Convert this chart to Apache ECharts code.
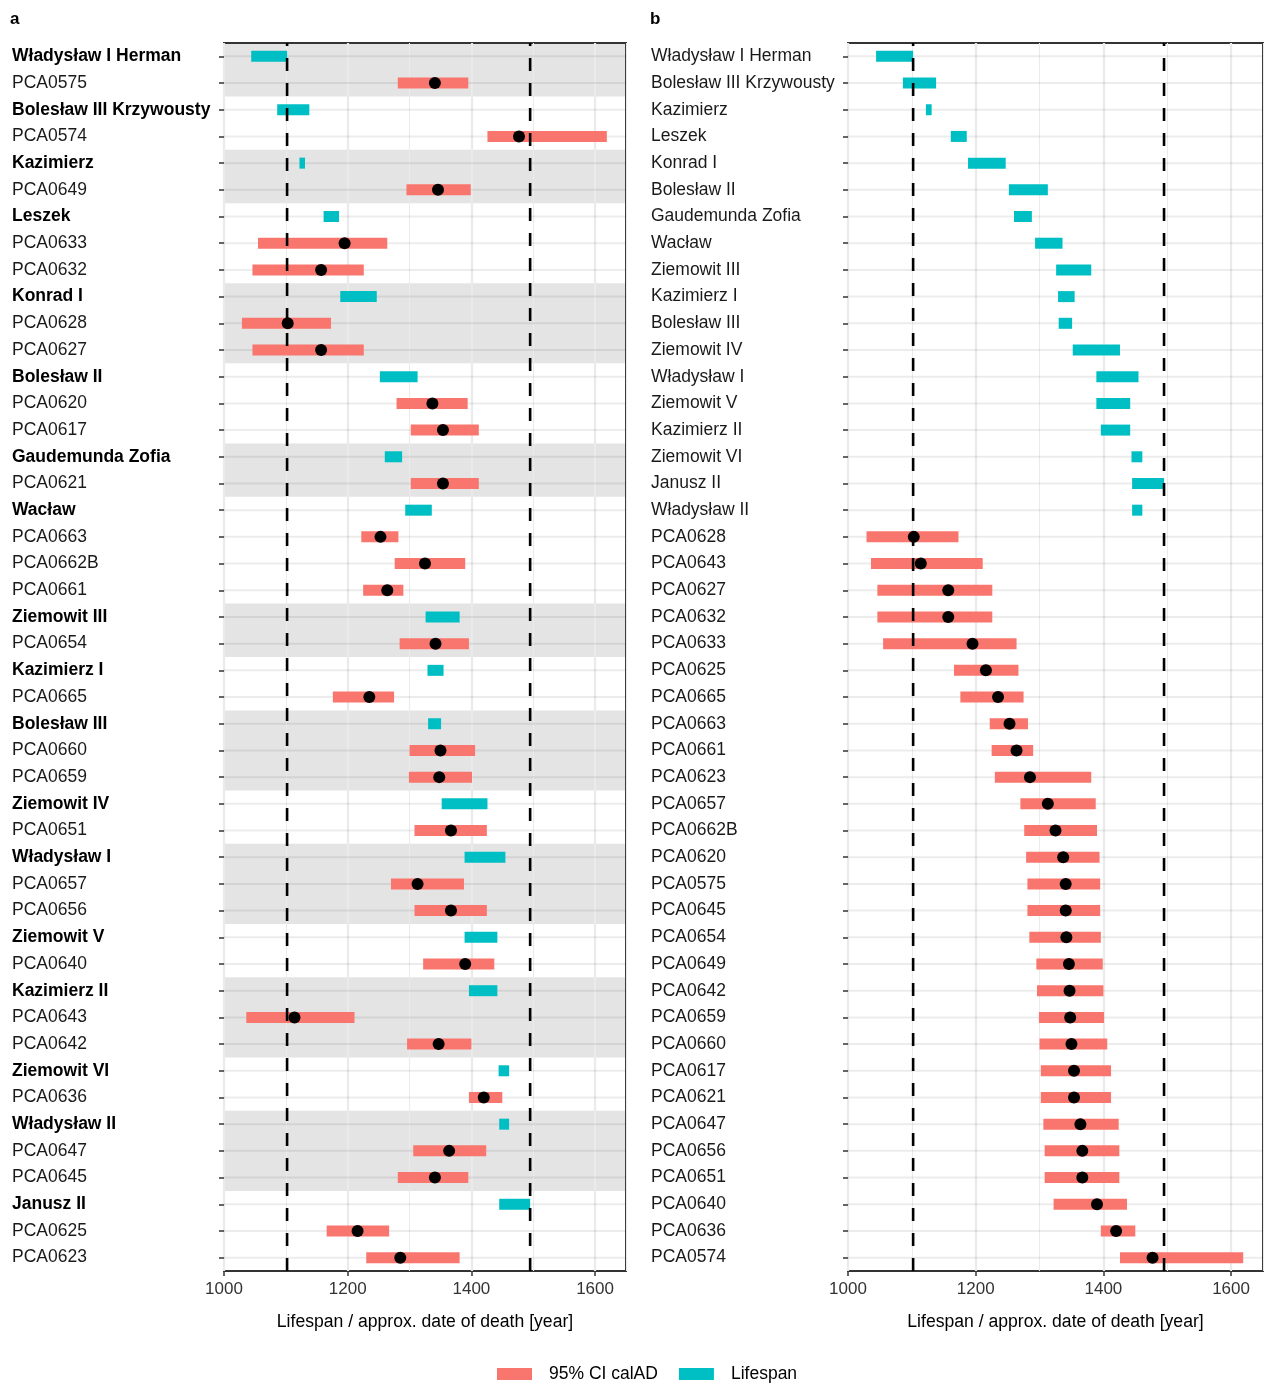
<!DOCTYPE html>
<html>
<head>
<meta charset="utf-8">
<title>Lifespan vs calAD</title>
<script src="https://cdn.jsdelivr.net/npm/echarts@6/dist/echarts.min.js"></script>
<style>
    html, body { margin: 0; padding: 0; background: #fff; }
    #chart { width: 1264px; height: 1383px; }
</style>
</head>
<body>
<div id="chart"></div>
<script>
// rulers (lifespan, years AD), panel b order
const rulers = ["Władysław I Herman", "Bolesław III Krzywousty", "Kazimierz", "Leszek", "Konrad I",
    "Bolesław II", "Gaudemunda Zofia", "Wacław", "Ziemowit III", "Kazimierz I", "Bolesław III",
    "Ziemowit IV", "Władysław I", "Ziemowit V", "Kazimierz II", "Ziemowit VI", "Janusz II", "Władysław II"]
const lifeStart = [1044, 1086, 1122, 1161, 1188, 1252, 1260, 1293, 1326, 1329, 1330, 1352, 1389, 1389, 1396, 1444, 1445, 1445]
const lifeEnd = [1102, 1138, 1131, 1186, 1247, 1313, 1288, 1336, 1381, 1355, 1351, 1426, 1455, 1442, 1442, 1461, 1495, 1461]

// samples, sorted by calAD (panel b order)
const samples = ["PCA0628", "PCA0643", "PCA0627", "PCA0632", "PCA0633", "PCA0625", "PCA0665", "PCA0663",
    "PCA0661", "PCA0623", "PCA0657", "PCA0662B", "PCA0620", "PCA0575", "PCA0645", "PCA0654", "PCA0649",
    "PCA0642", "PCA0659", "PCA0660", "PCA0617", "PCA0621", "PCA0647", "PCA0656", "PCA0651", "PCA0640",
    "PCA0636", "PCA0574"]
const ciLow = [1029, 1036, 1046, 1046, 1055, 1166, 1176, 1222, 1225, 1230, 1270, 1276, 1279, 1281, 1281, 1284,
    1295, 1296, 1299, 1300, 1302, 1302, 1306, 1308, 1308, 1322, 1396, 1426]
const ciHigh = [1173, 1211, 1226, 1226, 1264, 1267, 1275, 1282, 1290, 1381, 1388, 1390, 1394, 1395, 1395, 1396,
    1399, 1400, 1401, 1406, 1412, 1412, 1424, 1425, 1425, 1437, 1450, 1619]
const calAD = [1103, 1114, 1157, 1157, 1195, 1216, 1235, 1253, 1264, 1285, 1313, 1325, 1337, 1341, 1341, 1342,
    1346, 1347, 1348, 1350, 1354, 1354, 1364, 1367, 1367, 1390, 1420, 1477]

// panel a: each ruler followed by its samples
const groupRulers = ["Władysław I Herman", "Bolesław III Krzywousty", "Kazimierz", "Leszek", "Konrad I",
    "Bolesław II", "Gaudemunda Zofia", "Wacław", "Ziemowit III", "Kazimierz I", "Bolesław III",
    "Ziemowit IV", "Władysław I", "Ziemowit V", "Kazimierz II", "Ziemowit VI", "Władysław II", "Janusz II"]
const groupSamples = [["PCA0575"], ["PCA0574"], ["PCA0649"], ["PCA0633", "PCA0632"], ["PCA0628", "PCA0627"],
    ["PCA0620", "PCA0617"], ["PCA0621"], ["PCA0663", "PCA0662B", "PCA0661"], ["PCA0654"], ["PCA0665"],
    ["PCA0660", "PCA0659"], ["PCA0651"], ["PCA0657", "PCA0656"], ["PCA0640"], ["PCA0643", "PCA0642"],
    ["PCA0636"], ["PCA0647", "PCA0645"], ["PCA0625", "PCA0623"]]

const deathYears = [1102, 1495]
const xTicks = [1000, 1200, 1400, 1600]

const FONT = "'Liberation Sans', Arial, Helvetica, sans-serif"
const RED = "#F8766D"
const TEAL = "#00BFC4"

let rowsA = []
let bandsA = []
groupRulers.forEach((r, i) => {
    const first = rowsA.length
    rowsA.push(r)
    groupSamples[i].forEach(s => rowsA.push(s))
    if (i % 2 === 0) bandsA.push([first, rowsA.length - 1])
})
const rowsB = rulers.concat(samples)

function rangeItem(params, api) {
    const y = api.value(2)
    const s = api.coord([api.value(0), y])
    const e = api.coord([api.value(1), y])
    return {
        type: "rect",
        shape: { x: s[0], y: s[1] - 5.5, width: e[0] - s[0], height: 11 },
        style: { fill: api.visual("color") }
    }
}

function bandItem(params, api) {
    const cs = params.coordSys
    const h = api.size([0, 1])[1]
    const y0 = api.coord([1000, api.value(0)])[1] - h / 2
    const y1 = api.coord([1000, api.value(1)])[1] + h / 2
    return {
        type: "rect",
        shape: { x: cs.x, y: y0, width: cs.width, height: y1 - y0 },
        style: { fill: "#E4E4E4" }
    }
}

function rowLineItem(params, api) {
    const cs = params.coordSys
    const y = api.coord([1000, api.value(0)])[1]
    return {
        type: "line",
        shape: { x1: cs.x, y1: y, x2: cs.x + cs.width, y2: y },
        style: { stroke: "rgba(0,0,0,0.075)", lineWidth: 2 }
    }
}

function dashItem(params, api) {
    const cs = params.coordSys
    const x = api.coord([api.value(0), 0])[0]
    return {
        type: "line",
        shape: { x1: x, y1: cs.y + cs.height, x2: x, y2: cs.y },
        style: { stroke: "#000", lineWidth: 2.6, lineDash: [13, 12] }
    }
}

function panelSeries(rows, g, withBands) {
    const xi = g * 2
    let list = []
    if (withBands) {
        list.push({
            type: "custom", xAxisIndex: xi, yAxisIndex: g, z: -1, silent: true,
            renderItem: bandItem, encode: { y: [0, 1] }, data: bandsA
        })
    }
    list.push({
        type: "custom", xAxisIndex: xi, yAxisIndex: g, z: 1, silent: true,
        renderItem: rowLineItem, encode: { y: 0 }, data: rows.map((r, i) => [i])
    })
    list.push({
        name: "Lifespan", type: "custom", xAxisIndex: xi, yAxisIndex: g, z: 2,
        itemStyle: { color: TEAL }, renderItem: rangeItem, encode: { x: [0, 1], y: 2 },
        data: rulers.map((r, i) => [lifeStart[i], lifeEnd[i], rows.indexOf(r)])
    })
    list.push({
        name: "95% CI calAD", type: "custom", xAxisIndex: xi, yAxisIndex: g, z: 2,
        itemStyle: { color: RED }, renderItem: rangeItem, encode: { x: [0, 1], y: 2 },
        data: samples.map((s, i) => [ciLow[i], ciHigh[i], rows.indexOf(s)])
    })
    list.push({
        type: "custom", xAxisIndex: xi, yAxisIndex: g, z: 3, silent: true,
        renderItem: dashItem, encode: { x: 0 }, data: deathYears.map(d => [d])
    })
    list.push({
        type: "scatter", xAxisIndex: xi, yAxisIndex: g, z: 4, silent: true,
        symbol: "circle", symbolSize: 12, itemStyle: { color: "#000", opacity: 1 },
        data: samples.map((s, i) => [calAD[i], rows.indexOf(s)])
    })
    return list
}

function mainX(g) {
    return {
        gridIndex: g, type: "value", min: 1000, max: 1650, interval: 200, position: "bottom",
        axisLine: { show: false },
        axisTick: { show: true, length: 5, customValues: xTicks, lineStyle: { color: "#333", width: 1.5 } },
        axisLabel: {
            customValues: xTicks, margin: 10, fontSize: 17, color: "#333", fontFamily: FONT,
            formatter: v => String(v)
        },
        splitLine: { show: true, lineStyle: { color: "#EBEBEB", width: 2.2 } },
        name: "Lifespan / approx. date of death [year]",
        nameLocation: "middle", nameGap: 42,
        nameTextStyle: { fontSize: 17.6, color: "#000", fontFamily: FONT }
    }
}

function minorX(g) {
    return {
        gridIndex: g, type: "value", min: 1000, max: 1650, interval: 100, position: "top",
        axisLine: { show: false }, axisTick: { show: false }, axisLabel: { show: false },
        splitLine: { show: true, lineStyle: { color: "#EBEBEB", width: 1.1 } }
    }
}

function yAxisOf(rows, g, margin, boldRulers) {
    return {
        gridIndex: g, type: "category", data: rows, inverse: true, boundaryGap: true,
        axisLine: { show: false },
        axisTick: { show: true, alignWithLabel: true, interval: 0, length: 5, lineStyle: { color: "#333", width: 1.5 } },
        axisLabel: {
            interval: 0, align: "left", margin: margin, fontSize: 17.5, color: "#1a1a1a", fontFamily: FONT,
            formatter: v => (boldRulers && rulers.indexOf(v) >= 0) ? "{b|" + v + "}" : v,
            rich: { b: { fontWeight: "bold", fontSize: 17.5, color: "#000", fontFamily: FONT } }
        },
        splitLine: { show: false }
    }
}

let myChart = echarts.init(document.getElementById("chart"), null, { renderer: "canvas" })
myChart.setOption({
    animation: false,
    backgroundColor: "#fff",
    textStyle: { fontFamily: FONT },
    title: [
        { text: "a", left: 5, top: 6, textStyle: { fontSize: 17, fontWeight: "bold", color: "#000", fontFamily: FONT } },
        { text: "b", left: 645, top: 6, textStyle: { fontSize: 17, fontWeight: "bold", color: "#000", fontFamily: FONT } }
    ],
    legend: {
        data: [{ name: "95% CI calAD", icon: "rect" }, { name: "Lifespan", icon: "rect" }],
        left: 492, top: 1360, itemWidth: 35, itemHeight: 12, itemGap: 21, selectedMode: false,
        textStyle: { fontSize: 17.5, color: "#000", fontFamily: FONT, padding: [0, 0, 0, 12] }
    },
    grid: [
        { left: 224, top: 43, width: 402, height: 1228, show: true, borderColor: "#333", borderWidth: 2, outerBoundsMode: "none" },
        { left: 848, top: 43, width: 415, height: 1228, show: true, borderColor: "#333", borderWidth: 2, outerBoundsMode: "none" }
    ],
    xAxis: [mainX(0), minorX(0), mainX(1), minorX(1)],
    yAxis: [yAxisOf(rowsA, 0, 212, true), yAxisOf(rowsB, 1, 197, false)],
    series: panelSeries(rowsA, 0, true).concat(panelSeries(rowsB, 1, false))
})
</script>
</body>
</html>
